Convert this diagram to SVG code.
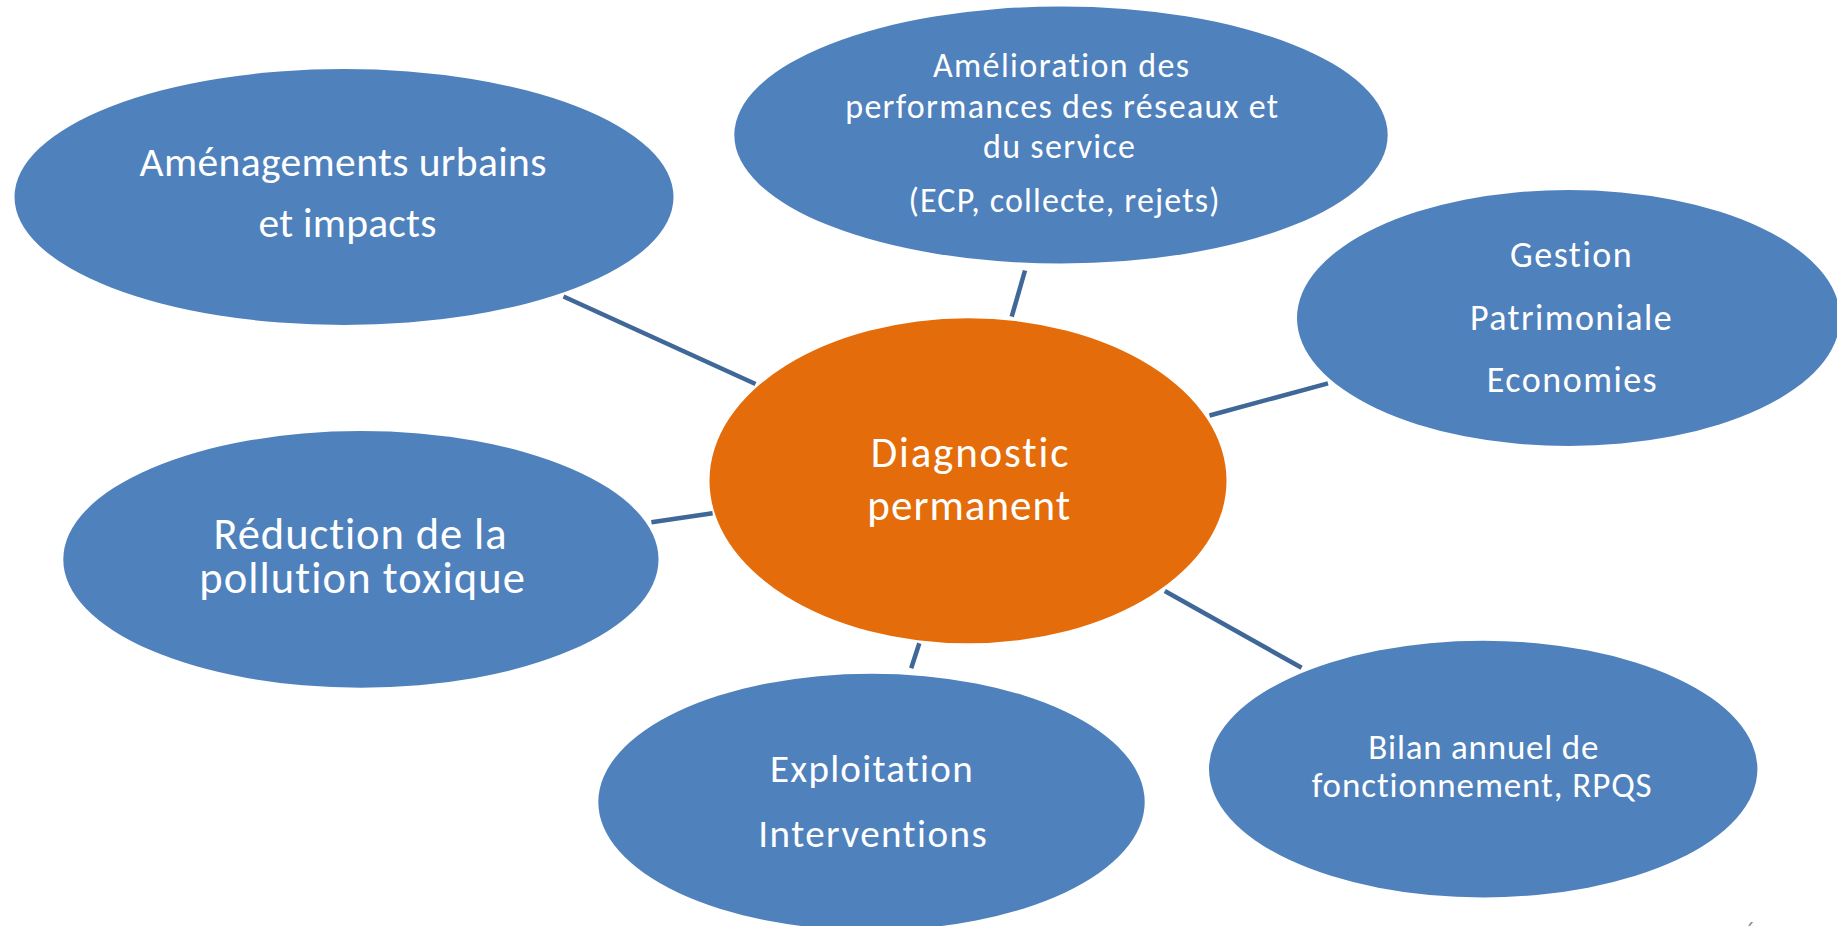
<svg xmlns="http://www.w3.org/2000/svg" width="1837" height="926" viewBox="0 0 1837 926">
  <style>
    .node { fill: #4F81BD; }
    .center { fill: #E46C0A; }
    .lbl { fill: #FFFFFF; font-family: Carlito, Lato, "Open Sans", sans-serif; text-anchor: middle; font-variant-ligatures: none; }
    .conn { stroke: #3F6797; stroke-width: 4.5; fill: none; }
    .pg { fill: #8A8A8A; font-family: Carlito, Lato, sans-serif; font-size: 20px; text-anchor: middle; }
  </style>
  <rect width="1837" height="926" fill="#FFFFFF"/>
  <g id="connectors">
    <line class="conn" x1="563.5" y1="296.5" x2="755.5" y2="384"/>
    <line class="conn" x1="1025" y1="270.5" x2="1011.7" y2="316.7"/>
    <line class="conn" x1="1209.5" y1="415.5" x2="1328" y2="383.3"/>
    <line class="conn" x1="651.4" y1="522.3" x2="712.6" y2="513.3"/>
    <line class="conn" x1="1164.8" y1="591" x2="1301.6" y2="667.8"/>
    <line class="conn" x1="919.3" y1="643.3" x2="911.2" y2="668.3"/>
  </g>
  <g id="node-amenagements">
    <ellipse class="node" cx="344" cy="197" rx="329.5" ry="128"/>
    <text class="lbl" font-size="41.5" x="343" y="176" textLength="407">Aménagements urbains</text>
    <text class="lbl" font-size="41.5" x="347.5" y="236.5" textLength="178">et impacts</text>
  </g>
  <g id="node-amelioration">
    <ellipse class="node" cx="1061" cy="135" rx="326.7" ry="128.5"/>
    <text class="lbl" font-size="34" x="1061" y="77.3" textLength="256">Amélioration des</text>
    <text class="lbl" font-size="34" x="1061.7" y="118.3" textLength="433">performances des réseaux et</text>
    <text class="lbl" font-size="34" x="1059" y="158.3" textLength="152">du service</text>
    <text class="lbl" font-size="34" x="1064" y="211.7" textLength="311">(ECP, collecte, rejets)</text>
  </g>
  <g id="node-gestion">
    <ellipse class="node" cx="1568.5" cy="318" rx="271.5" ry="128"/>
    <text class="lbl" font-size="36" x="1570.8" y="267.3" textLength="121.7">Gestion</text>
    <text class="lbl" font-size="36" x="1570.8" y="330" textLength="201.7">Patrimoniale</text>
    <text class="lbl" font-size="36" x="1571.7" y="391.7" textLength="170">Economies</text>
  </g>
  <g id="node-reduction">
    <ellipse class="node" cx="360.9" cy="559.4" rx="297.6" ry="128.3"/>
    <text class="lbl" font-size="44.5" x="360" y="548.5" textLength="293">Réduction de la</text>
    <text class="lbl" font-size="44.5" x="362" y="593" textLength="325.7">pollution toxique</text>
  </g>
  <g id="node-diagnostic">
    <ellipse class="center" cx="968" cy="480.8" rx="258.5" ry="162.5"/>
    <text class="lbl" font-size="43" x="969.5" y="466.7" textLength="197.7">Diagnostic</text>
    <text class="lbl" font-size="43" x="968.7" y="520" textLength="202.7">permanent</text>
  </g>
  <g id="node-exploitation">
    <ellipse class="node" cx="871.5" cy="802" rx="273.2" ry="128.3"/>
    <text class="lbl" font-size="39" x="871.3" y="781.7" textLength="202.7">Exploitation</text>
    <text class="lbl" font-size="39" x="872.5" y="846.7" textLength="228.3">Interventions</text>
  </g>
  <g id="node-bilan">
    <ellipse class="node" cx="1483.2" cy="769.1" rx="274.2" ry="128.3"/>
    <text class="lbl" font-size="35" x="1483.3" y="759.3" textLength="230">Bilan annuel de</text>
    <text class="lbl" font-size="35" x="1481.7" y="797.3" textLength="340">fonctionnement, RPQS</text>
  </g>
  <text class="pg" x="1750" y="936">6</text>
</svg>
